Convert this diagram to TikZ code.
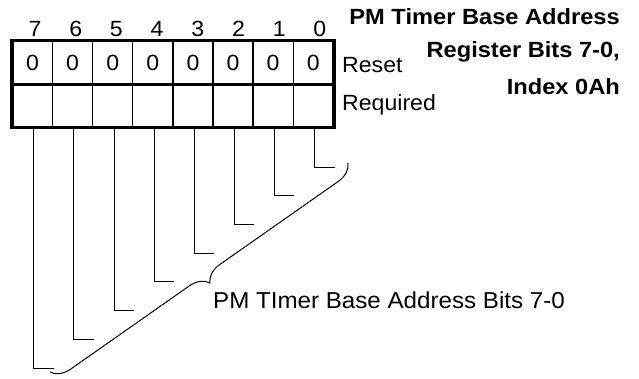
\documentclass[tikz,border=0pt]{standalone}
\usepackage{fontspec}
\setmainfont{Liberation Sans}[FakeStretch=1.05,BoldFeatures={FakeStretch=1.075}]
\usetikzlibrary{decorations.pathreplacing}
\begin{document}
\begin{tikzpicture}[x=1pt,y=-1pt,
  lbl/.style={inner sep=0pt, font=\fontsize{22}{22}\selectfont},
  ttl/.style={inner sep=0pt, anchor=base east, font=\fontsize{22}{22}\selectfont\bfseries},
  cellbox/.style={draw, line width=1.3pt, minimum width=40.1pt, minimum height=43pt, inner sep=0pt, font=\fontsize{22}{22}\selectfont},
  frame/.style={line width=3.5pt},
  stem/.style={line width=1pt},
  bracestyle/.style={line width=1pt, decorate, decoration={brace, amplitude=19pt}}]
\useasboundingbox (0,0) rectangle (639,379);
% cells
\foreach \i in {0,...,7}{
  \pgfmathsetmacro{\cx}{32.55+40.1*\i}
  \pgfmathtruncatemacro{\bit}{7-\i}
  \node[cellbox] (t\i) at (\cx,62.5) {0};
  \node[cellbox] (b\i) at (\cx,105.5) {};
  \node[lbl, anchor=base] (n\i) at (35+40.7*\i,37) {\bit};
}
% frame
\draw[frame] (t0.north west) rectangle (b7.south east);
\draw[frame] (t0.south west) -- (t7.south east);
% side labels
\node[lbl, anchor=base west] (reset) at (342,73) {Reset};
\node[lbl, anchor=base west] (req) at (342,111) {Required};
% title
\node[ttl] (ttl1) at (620,25) {PM Timer Base Address};
\node[ttl] (ttl2) at (620,58) {Register Bits 7-0,};
\node[ttl] (ttl3) at (620,95) {Index 0Ah};
% stems
\foreach \i in {0,...,7}{
  \pgfmathsetmacro{\ex}{32.55+40.1*\i+21.3}
  \pgfmathsetmacro{\ey}{368-28.7*\i}
  \coordinate (e\i) at (\ex,\ey);
  \draw[stem] ([xshift=1.3pt]b\i.south) |- (e\i);
}
% brace
\coordinate (ba) at (348,163);
\coordinate (bb) at (50,372);
\draw[bracestyle] (ba) -- (bb);
\node[lbl, font=\fontsize{23}{23}\selectfont, anchor=base west] (lab) at (213,308) {PM TImer Base Address Bits 7-0};
\end{tikzpicture}
\end{document}
